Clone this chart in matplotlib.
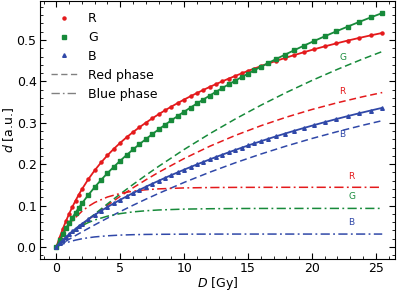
import matplotlib

matplotlib.use("Agg")
import matplotlib.pyplot as plt
from matplotlib.lines import Line2D
from matplotlib.ticker import MultipleLocator

# measured points (markers + solid line)
dose_pts = [0, 0.25, 0.5, 0.75, 1, 1.25, 1.5, 1.75, 2, 2.5, 3, 3.5, 4, 4.5, 5, 5.5,
            6, 6.5, 7, 7.5, 8, 8.5, 9, 9.5, 10, 10.5, 11, 11.5, 12, 12.5, 13, 13.5,
            14, 14.5, 15, 15.5, 16, 16.6, 17.2, 17.9, 18.6, 19.4, 20.2, 21.0, 21.9,
            22.8, 23.7, 24.6, 25.5]
r_pts = [0, 0.0225, 0.0432, 0.0623, 0.0800, 0.0964, 0.1117, 0.1259, 0.1393, 0.1635,
         0.1849, 0.2040, 0.2213, 0.2370, 0.2515, 0.2649, 0.2774, 0.2890, 0.3000,
         0.3104, 0.3204, 0.3299, 0.3389, 0.3476, 0.3560, 0.3640, 0.3717, 0.3792,
         0.3865, 0.3934, 0.4002, 0.4067, 0.4131, 0.4192, 0.4253, 0.4310, 0.4366,
         0.4432, 0.4495, 0.4565, 0.4633, 0.4707, 0.4777, 0.4845, 0.4916, 0.4985,
         0.5049, 0.5111, 0.5169]
g_pts = [0, 0.0158, 0.0307, 0.0447, 0.0581, 0.0706, 0.0827, 0.0941, 0.1050, 0.1255,
         0.1443, 0.1618, 0.1782, 0.1936, 0.2082, 0.2221, 0.2354, 0.2481, 0.2603,
         0.2723, 0.2837, 0.2949, 0.3058, 0.3163, 0.3267, 0.3367, 0.3465, 0.3561,
         0.3656, 0.3750, 0.3841, 0.3930, 0.4017, 0.4103, 0.4187, 0.4270, 0.4351,
         0.4446, 0.4540, 0.4646, 0.4750, 0.4866, 0.4979, 0.5088, 0.5208, 0.5323,
         0.5436, 0.5545, 0.5650]
b_pts = [0, 0.0083, 0.0162, 0.0236, 0.0306, 0.0373, 0.0438, 0.0499, 0.0557, 0.0668,
         0.0773, 0.0871, 0.0964, 0.1053, 0.1139, 0.1220, 0.1301, 0.1377, 0.1453,
         0.1526, 0.1596, 0.1667, 0.1735, 0.1801, 0.1866, 0.1930, 0.1992, 0.2053,
         0.2113, 0.2173, 0.2230, 0.2286, 0.2342, 0.2396, 0.2450, 0.2501, 0.2553,
         0.2613, 0.2672, 0.2739, 0.2804, 0.2876, 0.2946, 0.3014, 0.3088, 0.3160,
         0.3229, 0.3295, 0.3360]

# phase components
dose_fit = [0, 0.5, 1, 1.5, 2, 2.5, 3, 4, 5, 6, 7, 8, 10, 12, 14, 16, 18, 20, 22, 24, 25.5]
r_red = [0, 0.0139, 0.0274, 0.0405, 0.0533, 0.0657, 0.0777, 0.1007, 0.1223, 0.1428,
         0.1620, 0.1802, 0.2135, 0.2431, 0.2693, 0.2927, 0.3135, 0.3320, 0.3484,
         0.3630, 0.3729]
r_blue = [0, 0.0293, 0.0526, 0.0712, 0.0860, 0.0978, 0.1072, 0.1206, 0.1292, 0.1346,
          0.1380, 0.1402, 0.1425, 0.1434, 0.1438, 0.1439, 0.1440, 0.1440, 0.1440,
          0.1440, 0.1440]
g_red = [0, 0.0138, 0.0274, 0.0407, 0.0538, 0.0667, 0.0793, 0.1040, 0.1278, 0.1508,
         0.1730, 0.1945, 0.2354, 0.2734, 0.3090, 0.3422, 0.3732, 0.4021, 0.4291,
         0.4543, 0.4720]
g_blue = [0, 0.0169, 0.0307, 0.0420, 0.0512, 0.0588, 0.0650, 0.0742, 0.0804, 0.0846,
          0.0873, 0.0892, 0.0913, 0.0922, 0.0927, 0.0929, 0.0929, 0.0930, 0.0930,
          0.0930, 0.0930]
b_red = [0, 0.0093, 0.0184, 0.0274, 0.0361, 0.0447, 0.0532, 0.0696, 0.0854, 0.1006,
         0.1152, 0.1292, 0.1558, 0.1804, 0.2032, 0.2243, 0.2438, 0.2619, 0.2786,
         0.2941, 0.3050]
b_blue = [0, 0.0069, 0.0122, 0.0164, 0.0196, 0.0221, 0.0241, 0.0268, 0.0285, 0.0295,
          0.0301, 0.0304, 0.0308, 0.0309, 0.0310, 0.0310, 0.0310, 0.0310, 0.0310,
          0.0310, 0.0310]

RED, GREEN, BLUE = "#e41a1c", "#178a3a", "#3048a8"
DASH = (0, (4.5, 2.5))
DASHDOT = (0, (6, 2.2, 1.2, 2.2))

fig = plt.figure(figsize=(4.0, 2.94), dpi=100)
ax = fig.add_axes([0.1, 0.118, 0.8875, 0.877])

lw = 1.1
ax.plot(dose_fit, r_red, ls=DASH, color=RED, lw=lw)
ax.plot(dose_fit, g_red, ls=DASH, color=GREEN, lw=lw)
ax.plot(dose_fit, b_red, ls=DASH, color=BLUE, lw=lw)
ax.plot(dose_fit, r_blue, ls=DASHDOT, color=RED, lw=lw)
ax.plot(dose_fit, g_blue, ls=DASHDOT, color=GREEN, lw=lw)
ax.plot(dose_fit, b_blue, ls=DASHDOT, color=BLUE, lw=lw)

ax.plot(dose_pts, r_pts, "-", color=RED, lw=1.3, marker="o", ms=2.2)
ax.plot(dose_pts, g_pts, "-", color=GREEN, lw=1.3, marker="s", ms=2.6)
ax.plot(dose_pts, b_pts, "-", color=BLUE, lw=1.3, marker="^", ms=2.6)

# channel tags next to the fitted components
tag = dict(fontsize=6.5, ha="center", va="center")
ax.text(22.4, 0.458, "G", color=GREEN, **tag)
ax.text(22.4, 0.375, "R", color=RED, **tag)
ax.text(22.4, 0.272, "B", color=BLUE, **tag)
ax.text(23.1, 0.171, "R", color=RED, **tag)
ax.text(23.1, 0.121, "G", color=GREEN, **tag)
ax.text(23.1, 0.058, "B", color=BLUE, **tag)

handles = [
    Line2D([], [], ls="none", marker="o", ms=2.2, color=RED, label="R"),
    Line2D([], [], ls="none", marker="s", ms=2.6, color=GREEN, label="G"),
    Line2D([], [], ls="none", marker="^", ms=2.6, color=BLUE, label="B"),
    Line2D([], [], ls=DASH, color="gray", lw=1.0, label="Red phase"),
    Line2D([], [], ls=DASHDOT, color="gray", lw=1.0, label="Blue phase"),
]
ax.legend(handles=handles, loc="upper left", frameon=False, fontsize=9,
          handlelength=2.2, labelspacing=0.47, borderaxespad=0.45)

ax.set_xlim(-1.28, 26.5)
ax.set_ylim(-0.03, 0.593)
ax.xaxis.set_major_locator(MultipleLocator(5))
ax.xaxis.set_minor_locator(MultipleLocator(1))
ax.yaxis.set_major_locator(MultipleLocator(0.1))
ax.yaxis.set_minor_locator(MultipleLocator(0.02))
ax.tick_params(which="both", direction="in", top=True, right=True, labelsize=9)
ax.tick_params(which="major", length=4, pad=2.5)
ax.tick_params(axis="x", which="major", pad=2)
ax.tick_params(which="minor", length=2)
ax.set_xlabel("$D$ [Gy]", fontsize=9, labelpad=0)
ax.set_ylabel("$d$ [a.u.]", fontsize=9, labelpad=0)

fig.savefig("out.png", dpi=100)
